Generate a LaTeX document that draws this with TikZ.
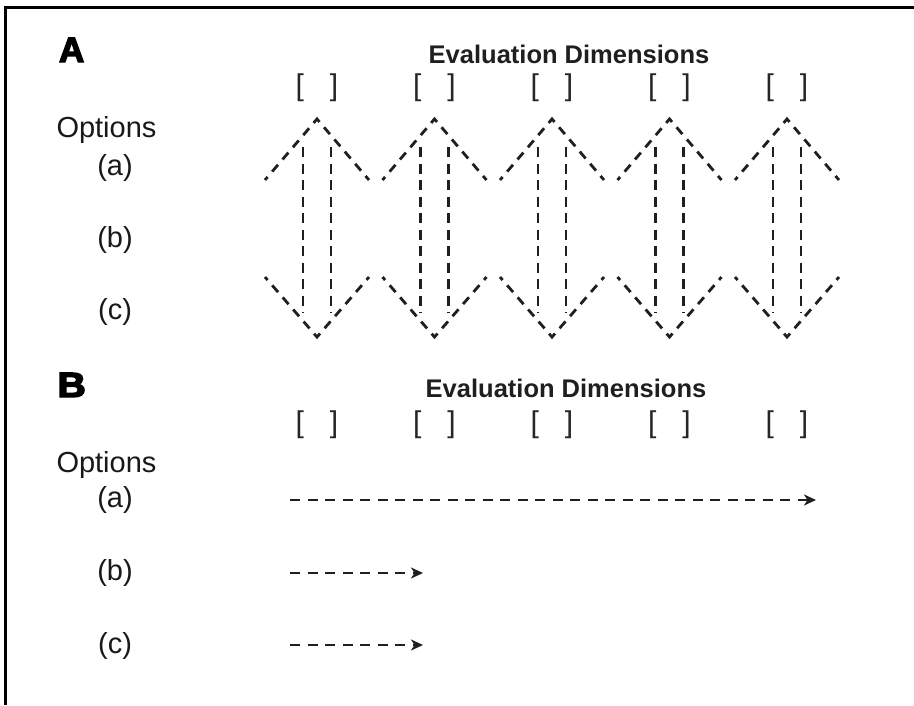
\documentclass[tikz,border=0pt]{standalone}
\usepackage{fontspec}
\setmainfont{Liberation Sans}
\newfontfamily\heavyfont[FakeBold=4]{Liberation Sans Bold}
\usetikzlibrary{arrows.meta}
\begin{document}
\begin{tikzpicture}[x=1pt,y=-1pt,
  every node/.style={inner sep=0pt, outer sep=0pt},
  frameline/.style={line width=3pt},
  zig/.style={line width=2.8pt, dash pattern=on 9pt off 7pt, dash phase=5pt, black!88},
  vline/.style={line width=2.8pt, dash pattern=on 10pt off 6.5pt, black!88},
  optarrow/.style={line width=2.6pt, dash pattern=on 10pt off 7.5pt, black!88,
    -{Stealth[length=12pt,width=11pt,inset=3.5pt]}},
  panel/.style={font=\heavyfont\fontsize{35}{40}\selectfont, anchor=base west},
  title/.style={font=\bfseries\fontsize{25.5}{30}\selectfont, anchor=base, black!88},
  bracket/.style={font=\fontsize{30}{34}\selectfont, black!85},
  optlabel/.style={font=\fontsize{29}{34}\selectfont, anchor=base west, black!90},
  letter/.style={font=\fontsize{29}{34}\selectfont, black!90}
]
\useasboundingbox (0,0) rectangle (914,705);
\fill[white] (0,0) rectangle (914,705);
\draw[frameline] (5.5,705) -- (5.5,7.5) -- (914,7.5);

% ---------- Panel A ----------
\node[panel] (panA) at (59,62) {A};
\node[title] (titleA) at (569,63) {Evaluation Dimensions};
\foreach \k in {0,...,4}
  \node[bracket] (brA\k) at ({317+117.5*\k},87.5) {[\hspace{26pt}]};
\node[optlabel] (optA) at (56.5,137) {Options};
\node[letter] (aA) at (115,168) {(a)};
\node[letter] (bA) at (115,239.5) {(b)};
\node[letter] (cA) at (115,311.5) {(c)};
\foreach \k in {0,...,4}{
  \pgfmathsetmacro\cx{317+117.5*\k}
  \draw[zig] ({\cx-52},180) -- (\cx,119) -- ({\cx+52},180);
  \draw[zig] ({\cx-52},277) -- (\cx,337) -- ({\cx+52},277);
  \draw[vline] ({\cx-14},147) -- ({\cx-14},313);
  \draw[vline] ({\cx+14},147) -- ({\cx+14},313);
}

% ---------- Panel B ----------
\node[panel] (panB) at (57.5,397) {\scalebox{1.12}[1]{B}};
\node[title] (titleB) at (566,397) {Evaluation Dimensions};
\foreach \k in {0,...,4}
  \node[bracket] (brB\k) at ({317+117.5*\k},425) {[\hspace{26pt}]};
\node[optlabel] (optB) at (56.5,472) {Options};
\node[letter] (aB) at (115,500) {(a)};
\node[letter] (bB) at (115,573) {(b)};
\node[letter] (cB) at (115,645.5) {(c)};
\coordinate (aS) at (290,500);
\coordinate (aE) at (816,500);
\coordinate (bS) at (290,573);
\coordinate (bE) at (423,573);
\coordinate (cS) at (290,645);
\coordinate (cE) at (423,645);
\draw[optarrow] (aS) -- (aE);
\draw[optarrow] (bS) -- (bE);
\draw[optarrow] (cS) -- (cE);
\end{tikzpicture}
\end{document}
